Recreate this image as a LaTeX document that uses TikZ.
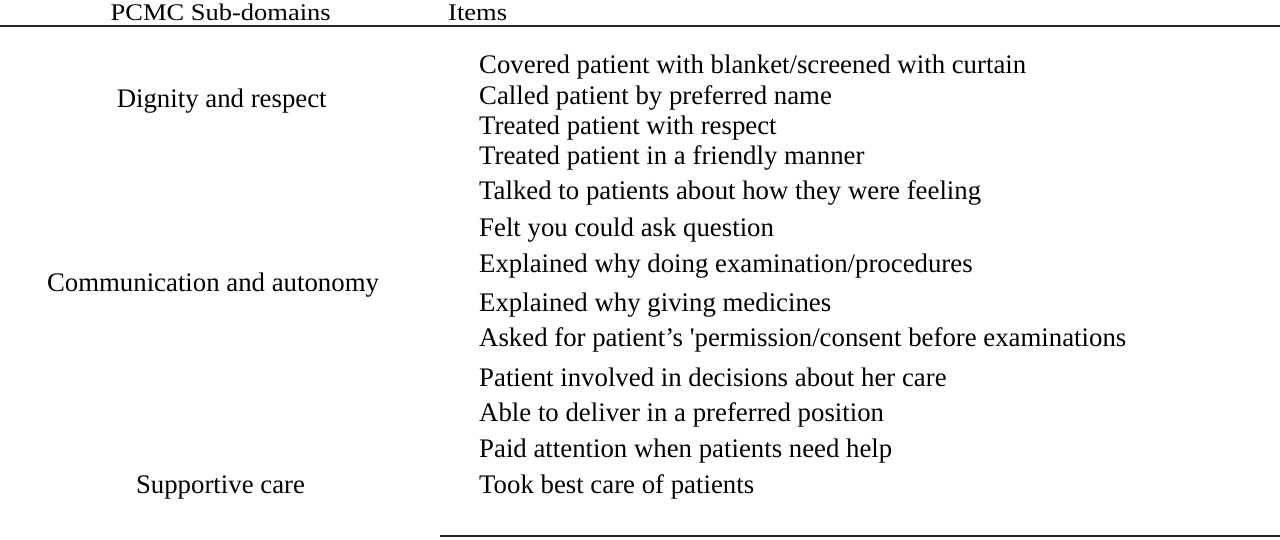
\documentclass[tikz,border=0pt]{standalone}
\usepackage{fontspec}
\setmainfont{Liberation Serif}
\newfontfamily\rawserif{Liberation Serif}
\begin{document}
\begin{tikzpicture}[x=1pt,y=-1pt,
  item/.style={anchor=base west,inner sep=0pt,font=\rawserif\fontsize{26.8}{30}\selectfont},
  dom/.style={anchor=base,inner sep=0pt,font=\rawserif\fontsize{26.8}{30}\selectfont},
  head/.style={inner sep=0pt,font=\rawserif\fontsize{26.5}{30}\selectfont},
  rule/.style={line width=1.6pt,black!85}]
\useasboundingbox[fill=white] (0,0) rectangle (1280,539);
% header
\node[head,anchor=base] (h1) at (220.7,20) {\scalebox{1}[0.9]{PCMC Sub-domains}};
\node[head,anchor=base west] (h2) at (448,20) {\scalebox{1}[0.9]{Items}};
\coordinate (t1) at (0,26);
\coordinate (t2) at (1280,26);
\draw[rule] (t1) -- (t2);
% sub-domains
\node[dom] (d1) at (221.7,107) {Dignity and respect};
\node[dom] (d2) at (213,291) {Communication and autonomy};
\node[dom] (d3) at (220.5,493) {Supportive care};
% items
\node[item] (i1) at (479,73) {Covered patient with blanket/screened with curtain};
\node[item] (i2) at (479,104) {Called patient by preferred name};
\node[item] (i3) at (479,134) {Treated patient with respect};
\node[item] (i4) at (479,164) {Treated patient in a friendly manner};
\node[item] (i5) at (479,199) {Talked to patients about how they were feeling};
\node[item] (i6) at (479,236) {Felt you could ask question};
\node[item] (i7) at (479,272) {Explained why doing examination/procedures};
\node[item] (i8) at (479,311) {Explained why giving medicines};
\node[item] (i9) at (479,346) {Asked for patient’s 'permission/consent before examinations};
\node[item] (i10) at (479,386) {Patient involved in decisions about her care};
\node[item] (i11) at (479,421) {Able to deliver in a preferred position};
\node[item] (i12) at (479,457) {Paid attention when patients need help};
\node[item] (i13) at (479,493) {Took best care of patients};
\coordinate (b1) at (440,536);
\coordinate (b2) at (1280,536);
\draw[rule] (b1) -- (b2);
\end{tikzpicture}
\end{document}
